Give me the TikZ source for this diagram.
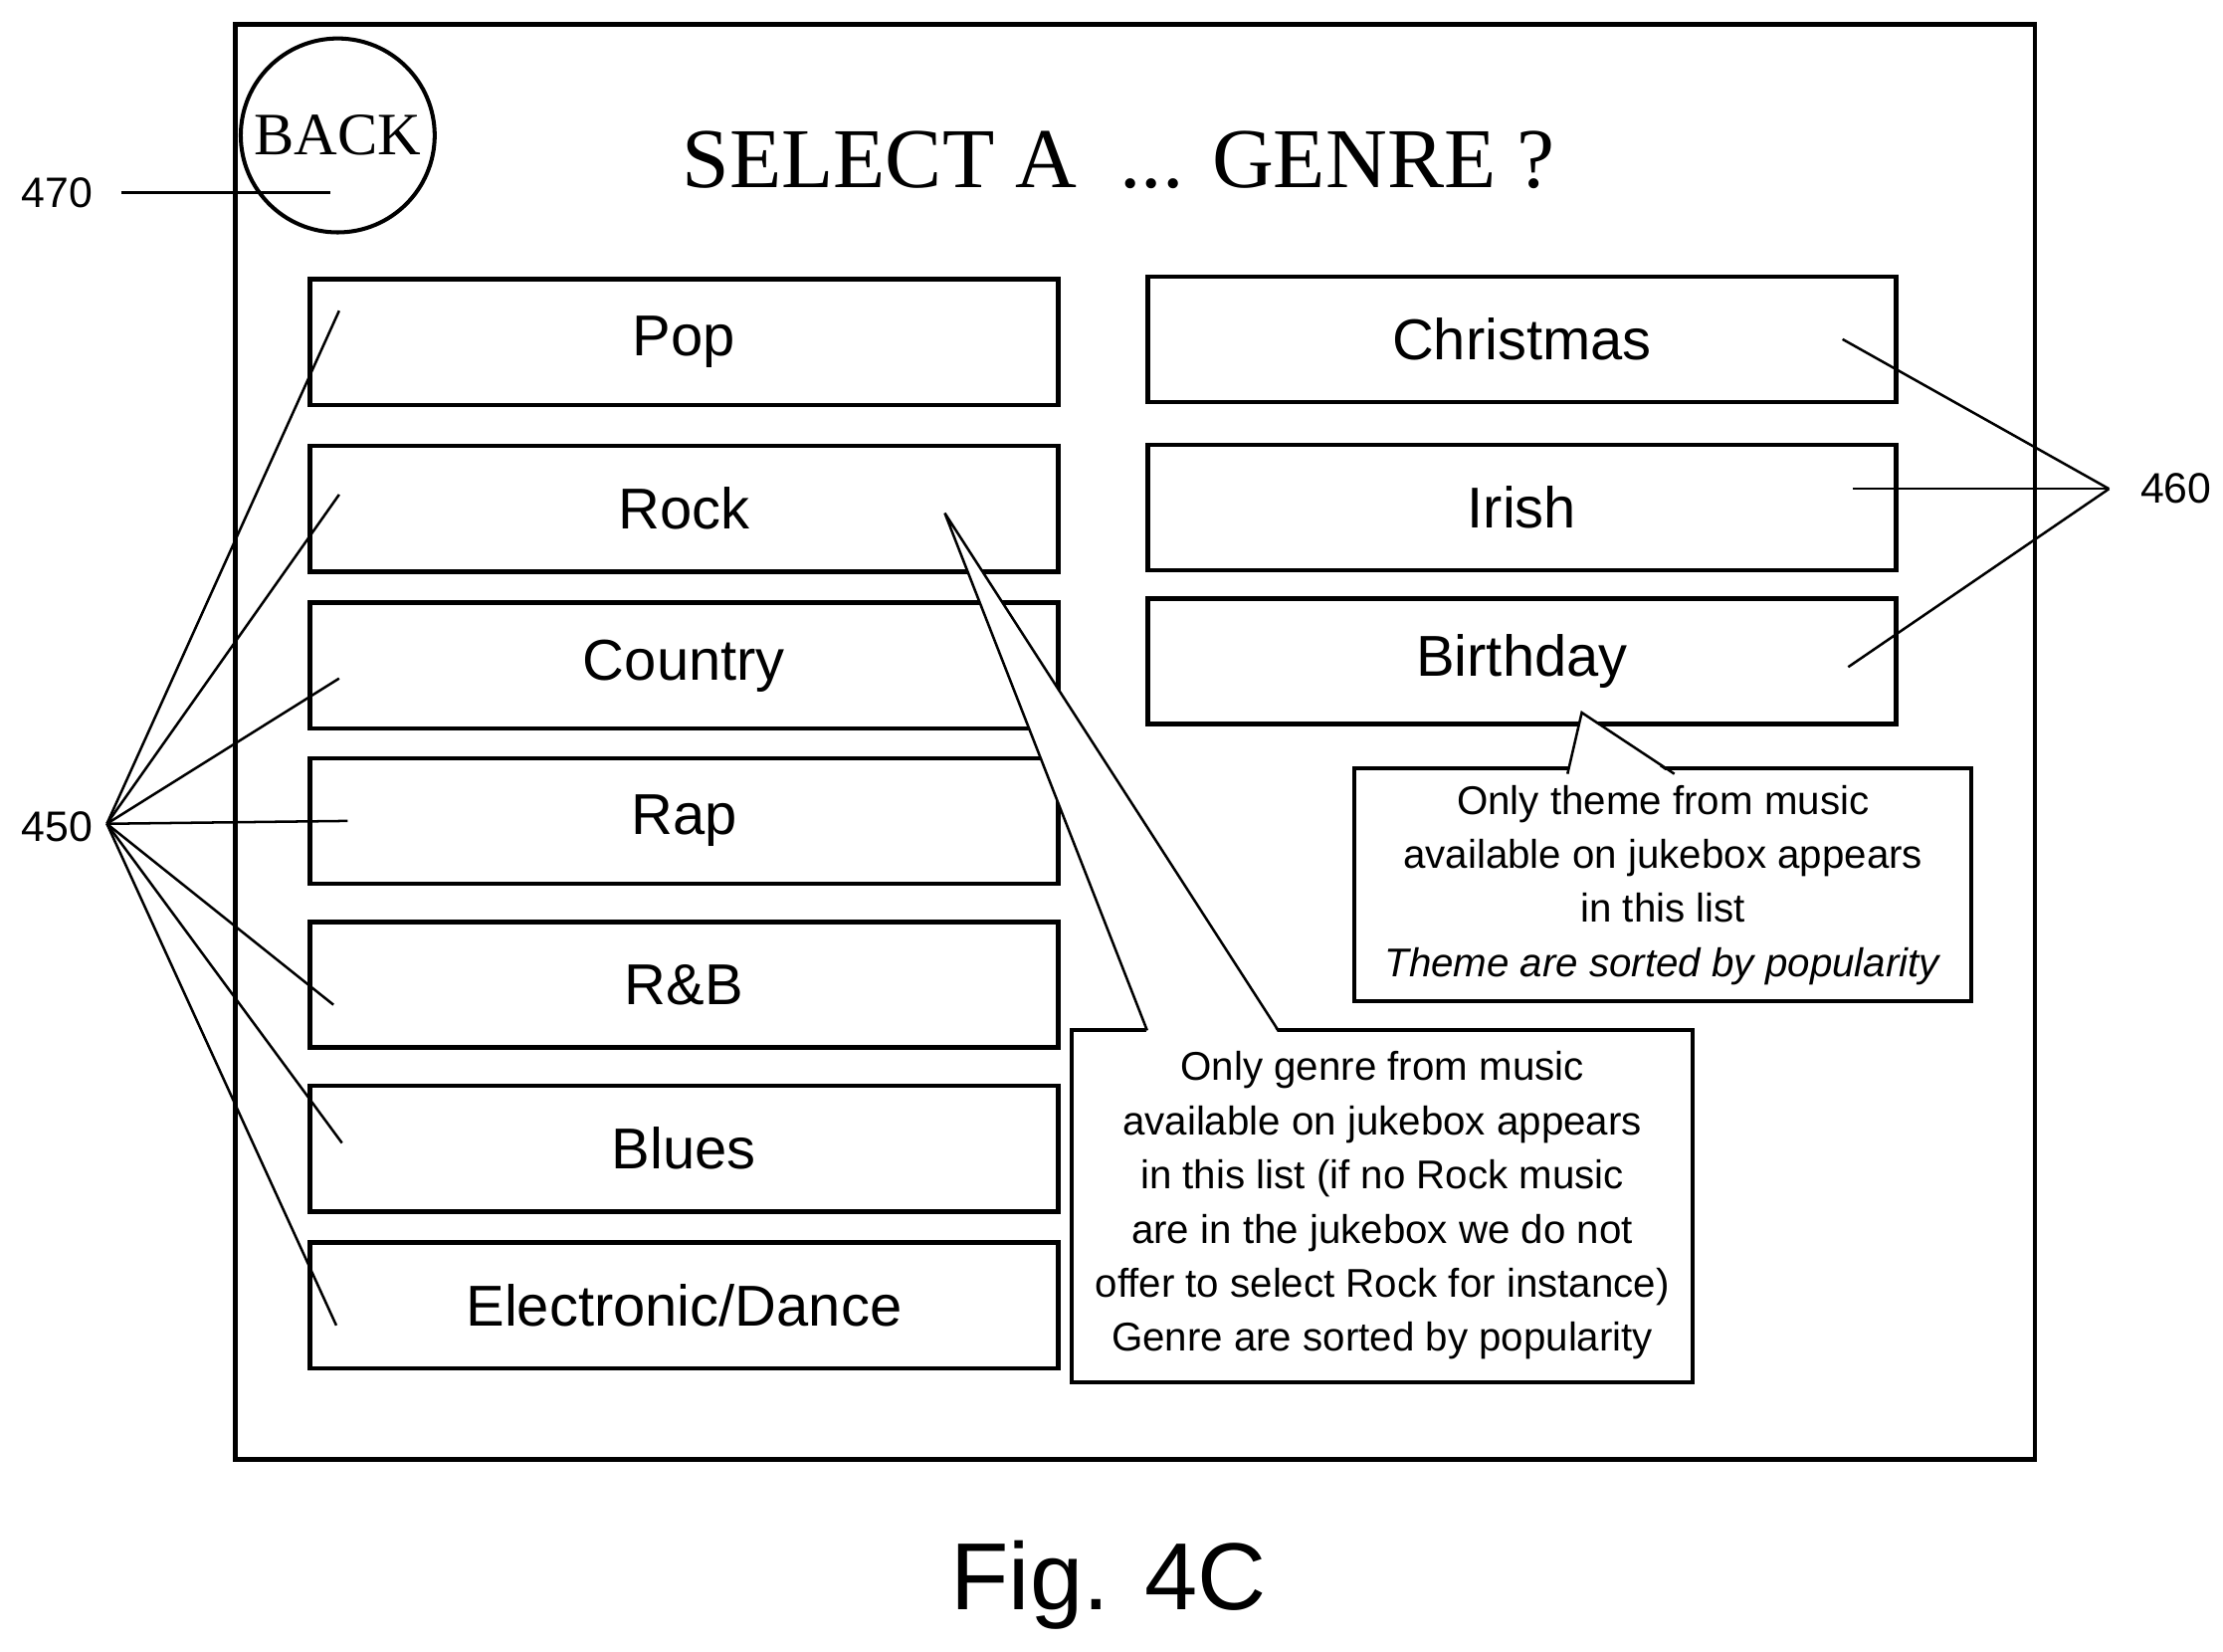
\documentclass[tikz,border=0pt]{standalone}
\usepackage{fontspec}
\setmainfont{Liberation Sans}
\newfontfamily\serif{Liberation Serif}
\usetikzlibrary{positioning}
\tikzset{
  genre/.style={draw,line width=0.9pt,minimum width=5.25cm,minimum height=0.88cm,font=\fontsize{11.5}{13}\selectfont},
  note/.style={draw,line width=0.8pt,fill=white,align=center,font=\fontsize{8}{10.8}\selectfont},
  lead/.style={line width=0.5pt},
  refnum/.style={font=\fontsize{8.5}{10}\selectfont}
}
\begin{document}
\begin{tikzpicture}[x=0.01cm,y=-0.01cm]
  \useasboundingbox (0,0) rectangle (1560,1159);
  \draw[line width=0.9pt] (165,17) rectangle (1428,1024);
  \node[circle,draw,line width=0.8pt,minimum size=1.36cm,inner sep=0pt,font=\serif\fontsize{12}{14}\selectfont] (back) at (237,95) {BACK};
  \node[font=\serif\fontsize{17}{20}\selectfont] (title) at (785,112) {SELECT A\ \ ... GENRE ?};
  % left column
  \node[genre] (pop) at (480,240) {Pop};
  \node[genre] (rock) at (480,357) {Rock};
  \node[genre] (country) at (480,467) {Country};
  \node[genre] (rap) at (480,576) {Rap};
  \node[genre] (rnb) at (480,691) {R\&B};
  \node[genre] (blues) at (480,806) {Blues};
  \node[genre] (dance) at (480,916) {Electronic/Dance};
  % right column
  \node[genre] (xmas) at (1068,238) {Christmas};
  \node[genre] (irish) at (1068,356) {Irish};
  \node[genre] (bday) at (1068,464) {Birthday};
  % callouts
  \node[note,minimum width=4.33cm,minimum height=1.57cm] (theme) at (1167,621)
    {Only theme from music\\available on jukebox appears\\in this list\\\textit{Theme are sorted by popularity}};
  \fill[white] (1100,545) -- (1110,500) -- (1175,545) -- cycle;
  \draw[lead] (1100,543) -- (1110,500) -- (1175,543);
  \node[note,minimum width=4.35cm,minimum height=2.47cm] (gnote) at (970,846)
    {Only genre from music\\available on jukebox appears\\in this list (if no Rock music\\are in the jukebox we do not\\offer to select Rock for instance)\\Genre are sorted by popularity};
  \fill[white] (805,725) -- (663,360) -- (897,725) -- cycle;
  \draw[lead] (805,723) -- (663,360) -- (897,723);
  % reference numerals
  \node[refnum] (n470) at (40,135) {470};
  \node[refnum] (n450) at (40,580) {450};
  \node[refnum] (n460) at (1527,343) {460};
  \coordinate (c450) at (75,578);
  \coordinate (c460) at (1480,343);
  \draw[lead] (85,135) -- (232,135);
  \foreach \p in {(238,218),(238,347),(238,476),(244,576),(234,705),(240,802),(236,930)}
    \draw[lead] (c450) -- \p;
  \foreach \p in {(1293,238),(1300,343),(1297,468)}
    \draw[lead] (c460) -- \p;
  \node[font=\fontsize{19}{22}\selectfont] (fig) at (778,1112) {Fig. 4C};
\end{tikzpicture}
\end{document}
